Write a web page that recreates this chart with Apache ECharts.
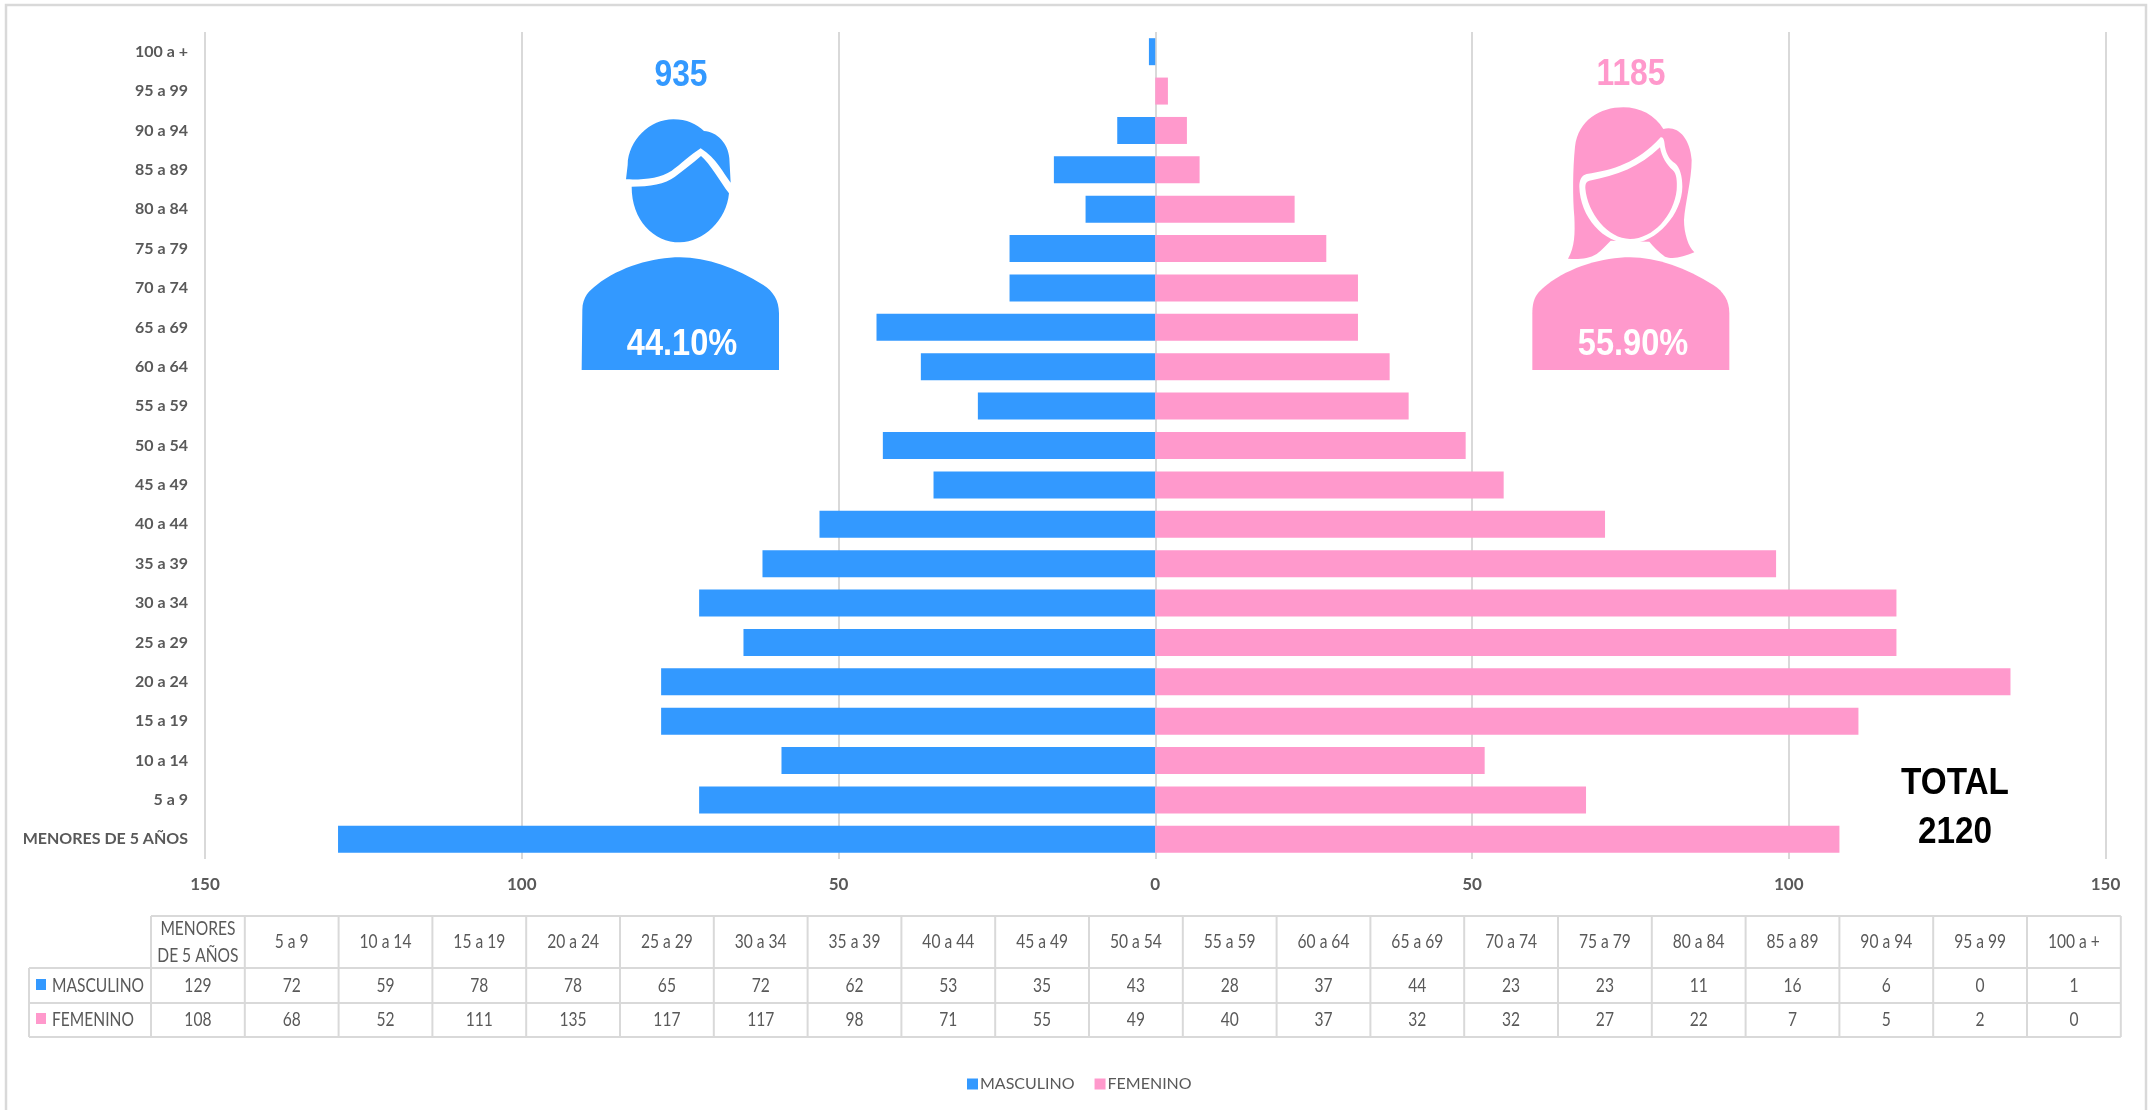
<!DOCTYPE html>
<html><head><meta charset="utf-8">
<style>html,body{margin:0;padding:0;background:#fff}#c{width:2149px;height:1110px}</style>
<script src="https://cdn.jsdelivr.net/npm/echarts@6/dist/echarts.min.js"></script>
</head><body><div id="c"></div>
<script>
const categories = ['MENORES DE 5 AÑOS','5 a 9','10 a 14','15 a 19','20 a 24','25 a 29','30 a 34','35 a 39','40 a 44','45 a 49','50 a 54','55 a 59','60 a 64','65 a 69','70 a 74','75 a 79','80 a 84','85 a 89','90 a 94','95 a 99','100 a +'];
const masculino = [129,72,59,78,78,65,72,62,53,35,43,28,37,44,23,23,11,16,6,0,1];
const femenino = [108,68,52,111,135,117,117,98,71,55,49,40,37,32,32,27,22,7,5,2,0];
const axisTicks = {min:-150,max:150,interval:50};
const BLUE='#3399FF', PINK='#FF99CC', LINE='#D9D9D9', TXT='#595959';
const FONT='Lato, Carlito, sans-serif';

const manPaths = [
 'M258,448 L263,405 C265,330 330,268 400,268 C440,268 470,282 492,303 C530,305 565,340 568,385 L572,458 C550,430 530,385 482,355 C450,375 420,405 395,422 C360,445 310,450 258,448 Z',
 'M275,470 C330,470 375,462 405,440 C430,422 460,398 483,378 C510,400 540,455 567,490 C560,570 490,637 420,637 C340,637 275,570 275,470 Z',
 'M125,1020 L127,840 C127,800 150,780 170,765 C240,710 340,682 420,682 C500,682 590,715 670,765 C700,785 717,810 717,850 L717,1020 Z'
];
const womanHair='M264,686 C285,650 285,610 283,560 C278,500 278,420 285,350 C295,270 360,232 430,232 C480,232 525,255 550,297 C590,285 630,320 635,390 C635,450 615,520 612,570 C612,610 625,650 643,667 C610,680 580,690 555,680 C535,665 520,650 508,635 L392,632 C380,645 365,660 350,672 C325,688 290,688 264,686 Z';
const womanFaceOuter='M320,432 C400,420 470,400 542,322 C552,320 553,335 555,350 C560,375 570,390 585,400 C600,412 607,440 607,470 C607,550 530,640 450,640 C370,640 300,560 298,470 C298,450 305,436 320,432 Z';
const womanFaceInner='M328,452 C410,438 480,410 540,352 C545,380 560,405 578,420 C590,430 592,455 590,480 C582,555 520,627 450,627 C385,627 322,550 316,475 C316,462 318,455 328,452 Z';
const womanBody='M157,1020 L157,850 C157,800 175,785 200,765 C270,710 370,682 450,682 C530,682 620,715 700,765 C730,785 748,810 748,850 L748,1020 Z';

function shape(d,ox,oy,fill){
  return {type:'path',silent:true,
    shape:{pathData:'M0,0 M900,1080 '+d,x:ox,y:oy,width:300,height:360,layout:'cover'},
    style:{fill:fill}};
}
function label(text,x,y,o){
  o=o||{};
  return {type:'text',silent:true,z:o.z||11,x:x,y:y,scaleX:o.sx==null?1:o.sx,
    style:{text:text,x:0,y:0,fill:o.fill||TXT,font:o.font,textAlign:o.align||'center',textVerticalAlign:'middle'}};
}
function seg(x1,y1,x2,y2){
  return {type:'line',silent:true,z:5,shape:{x1,y1,x2,y2},style:{stroke:LINE,lineWidth:2}};
}

const g=[];
g.push({type:'rect',silent:true,z:1,shape:{x:6,y:5,width:2140,height:1200},style:{fill:'none',stroke:LINE,lineWidth:2.5}});
const big='bold 37px "Liberation Sans", Arial, sans-serif';
g.push(label('935',681,75.5,{font:big,fill:BLUE,sx:.86}));
g.push(label('1185',1631,75,{font:big,fill:PINK,sx:.86}));
g.push(label('44.10%',682,345,{font:big,fill:'#fff',sx:.88}));
g.push(label('55.90%',1633,345,{font:big,fill:'#fff',sx:.88}));
const tot='bold 37px "Liberation Sans", Arial, sans-serif';
g.push(label('TOTAL',1955,784,{font:tot,fill:'#000',sx:.9}));
g.push(label('2120',1955,833,{font:tot,fill:'#000',sx:.9}));
// data table
const tx0=29,tx1=151,tw=93.8,ty=[916,968,1003,1037];
const tEnd=tx1+tw*categories.length;
g.push(seg(tx1,ty[0],tEnd,ty[0]),seg(tx0,ty[1],tEnd,ty[1]),seg(tx0,ty[2],tEnd,ty[2]),seg(tx0,ty[3],tEnd,ty[3]));
g.push(seg(tx0,ty[1],tx0,ty[3]));
for(let i=0;i<=categories.length;i++)g.push(seg(tx1+i*tw,ty[0],tx1+i*tw,ty[3]));
const tf='19px '+FONT, ts=.82;
categories.forEach((c,i)=>{
  const cx=tx1+tw*(i+.5);
  if(c.indexOf('MENORES')===0){
    g.push(label('MENORES',cx,929,{font:tf,sx:ts}),label('DE 5 AÑOS',cx,956,{font:tf,sx:ts}));
  } else g.push(label(c,cx,942,{font:tf,sx:ts}));
  g.push(label(String(masculino[i]),cx,986,{font:tf,sx:ts}));
  g.push(label(String(femenino[i]),cx,1020,{font:tf,sx:ts}));
});
g.push({type:'rect',silent:true,z:6,shape:{x:36,y:979,width:10,height:11},style:{fill:BLUE}});
g.push({type:'rect',silent:true,z:6,shape:{x:36,y:1013,width:10,height:11},style:{fill:PINK}});
g.push(label('MASCULINO',52,986,{font:tf,sx:ts,align:'left'}));
g.push(label('FEMENINO',52,1020,{font:tf,sx:ts,align:'left'}));

const chart=echarts.init(document.getElementById('c'),null,{renderer:'canvas'});
chart.setOption({
  animation:false,
  backgroundColor:'#fff',
  grid:{left:205,right:43.5,top:32,bottom:251,containLabel:false},
  legend:{left:962,top:1071,itemWidth:11,itemHeight:11,itemGap:20,icon:'rect',
    data:['MASCULINO','FEMENINO'],textStyle:{fontFamily:FONT,fontSize:16,color:TXT,padding:[0,0,0,-3]},z:12},
  xAxis:{type:'value',min:axisTicks.min,max:axisTicks.max,interval:axisTicks.interval,
    axisLine:{show:false},axisTick:{show:false},
    splitLine:{show:true,lineStyle:{color:LINE,width:2}},
    axisLabel:{margin:17,fontFamily:FONT,fontSize:17,fontWeight:'bold',color:TXT,formatter:v=>String(Math.abs(v))}},
  yAxis:{type:'category',data:categories,axisLine:{show:false},axisTick:{show:false},
    axisLabel:{interval:0,margin:17,fontFamily:FONT,fontSize:16,fontWeight:'bold',color:TXT}},
  series:[
    {name:'MASCULINO',type:'bar',stack:'p',barWidth:27,data:masculino.map(v=>-v),itemStyle:{color:BLUE},z:3},
    {name:'FEMENINO',type:'bar',stack:'p',barWidth:27,data:femenino,itemStyle:{color:PINK},z:3},
    {name:'iconos',type:'custom',coordinateSystem:'none',silent:true,z:4,data:[0],
     renderItem:function(){
       return {type:'group',children:[
         ...manPaths.map(d=>shape(d,540,30,BLUE)),
         shape(womanHair,1480,30,PINK),shape(womanFaceOuter,1480,30,'#fff'),shape(womanFaceInner,1480,30,PINK),shape(womanBody,1480,30,PINK)
       ]};
     }}
  ],
  graphic:{elements:g}
});
</script></body></html>
